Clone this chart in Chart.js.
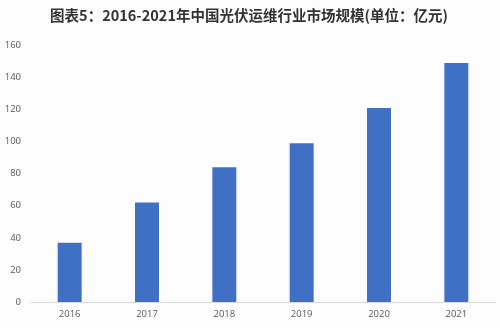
<!DOCTYPE html>
<html>
<head>
<meta charset="utf-8">
<script src="https://cdn.jsdelivr.net/npm/chart.js@4"></script>
<style>
  html, body { margin: 0; padding: 0; background: #fdfdfd; }
  #wrap { width: 500px; height: 327px; }
</style>
</head>
<body>
<div id="wrap"><canvas id="marketChart"></canvas></div>
<script>
// Data
const years = ['2016', '2017', '2018', '2019', '2020', '2021'];
const marketSize = [37, 62, 84, 99, 121, 149];
const yTicks = [0, 20, 40, 60, 80, 100, 120, 140, 160];

const titleText = '图表5：2016-2021年中国光伏运维行业市场规模(单位：亿元)';

const ctx = document.getElementById('marketChart').getContext('2d');
new Chart(ctx, {
    type: 'bar',
    data: {
        labels: years,
        datasets: [{
            label: '市场规模',
            data: marketSize,
            backgroundColor: '#4070c4',
            barPercentage: 0.31,
            categoryPercentage: 1
        }]
    },
    options: {
        responsive: true,
        maintainAspectRatio: false,
        animation: false,
        layout: { padding: { top: 7, left: 3, right: 5, bottom: 0 } },
        plugins: {
            legend: { display: false },
            tooltip: { enabled: false },
            title: {
                display: true,
                text: titleText,
                color: '#333333',
                font: { family: '"Noto Sans CJK SC", sans-serif', size: 14.5, weight: 'bold' },
                padding: { top: 0, bottom: 21 }
            }
        },
        scales: {
            x: {
                grid: { display: false, drawTicks: false },
                border: { color: '#d9d9d9' },
                ticks: { color: '#595959', font: { family: '"Open Sans", sans-serif', size: 9.5 }, padding: 7 },
                afterFit: axis => { axis.height = 25; }
            },
            y: {
                min: 0,
                max: 160,
                afterBuildTicks: axis => { axis.ticks = yTicks.map(v => ({ value: v })); },
                grid: { display: false, drawTicks: false },
                border: { display: false },
                ticks: { color: '#595959', font: { family: '"Open Sans", sans-serif', size: 9.5 }, padding: 10 },
                afterFit: axis => { axis.width = 28; }
            }
        }
    }
});
</script>
</body>
</html>
